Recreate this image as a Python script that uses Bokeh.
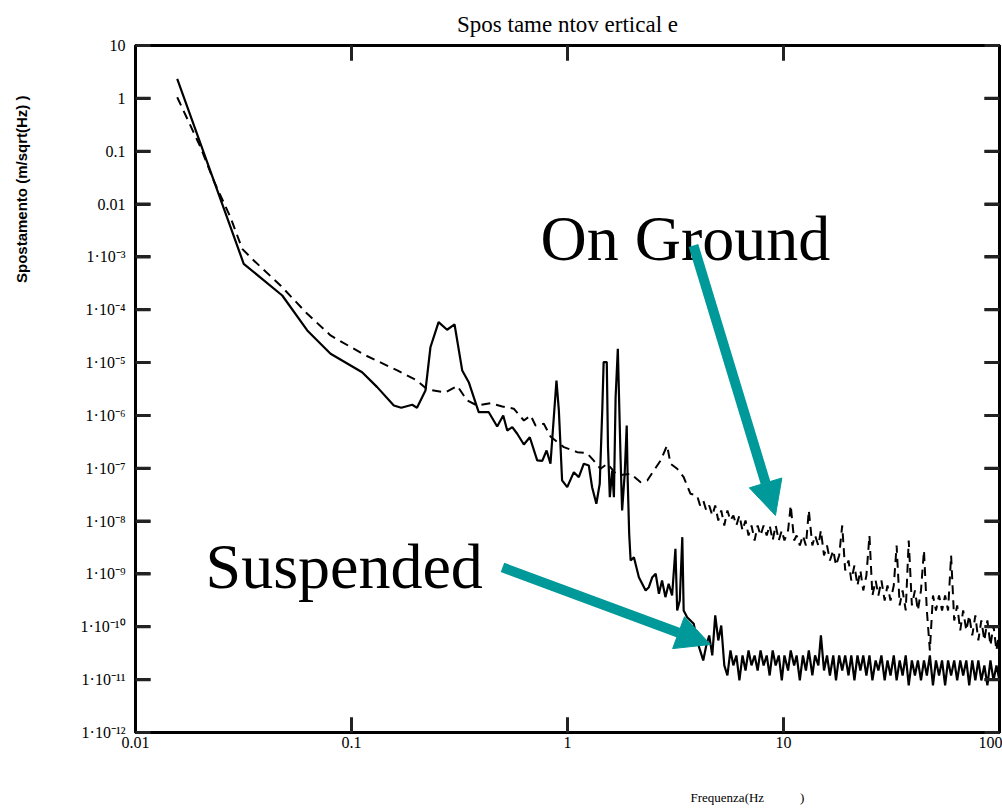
from bokeh.plotting import figure
from bokeh.models import (LogAxis, FixedTicker, CustomJSTickFormatter, Title, Label,
                          Arrow, NormalHead)
from bokeh.embed import file_html
from bokeh.resources import INLINE

# ---------------- data ----------------
susp_freq_lo = [0.0156, 0.0317, 0.0478, 0.0624, 0.080, 0.112, 0.1315, 0.157, 0.170, 0.191,
                0.201, 0.220, 0.232, 0.253, 0.277, 0.300, 0.3255, 0.349, 0.388, 0.432,
                0.4725, 0.504, 0.526, 0.555, 0.585, 0.628, 0.669, 0.724, 0.764, 0.800,
                0.834, 0.849, 0.889, 0.912, 0.944, 0.997, 1.07, 1.128, 1.19, 1.255,
                1.30, 1.36, 1.41, 1.45, 1.47, 1.52, 1.54, 1.57, 1.61, 1.64,
                1.67, 1.71, 1.76, 1.79, 1.84, 1.88, 1.90, 1.93, 1.96, 2.03,
                2.14, 2.30, 2.38, 2.47, 2.56, 2.65, 2.74, 2.84, 2.94, 3.05,
                3.16, 3.22, 3.31, 3.40, 3.45, 3.58, 3.84]
susp_lo = [2.34, 7.4e-4, 1.86e-4, 4.05e-5, 1.47e-5, 6.58e-6, 3.43e-6, 1.54e-6, 1.40e-6, 1.59e-6,
           1.40e-6, 2.96e-6, 1.95e-5, 5.81e-5, 4.18e-5, 5.26e-5, 7.1e-6, 4.26e-6, 1.15e-6, 1.15e-6,
           6.18e-7, 9.98e-7, 5.19e-7, 6.0e-7, 4.5e-7, 2.82e-7, 3.87e-7, 1.41e-7, 1.38e-7, 2.17e-7,
           1.22e-7, 3.36e-7, 4.58e-6, 1.24e-6, 5.88e-8, 4.39e-8, 8.44e-8, 6.79e-8, 1.22e-7, 1.13e-7,
           4.39e-8, 2.13e-8, 5.09e-8, 1.43e-6, 1.02e-5, 1.02e-5, 2.51e-7, 2.84e-8, 9.08e-8, 2.84e-8,
           2.21e-6, 1.82e-5, 1.62e-7, 1.59e-8, 7.87e-8, 6.46e-7, 5.88e-8, 5.77e-9, 1.80e-9, 2.08e-9,
           8.69e-10, 4.88e-10, 5.62e-10, 8.69e-10, 1.01e-9, 4.22e-10, 7.53e-10, 3.64e-10, 6.52e-10, 3.92e-10,
           3.0e-9, 2.04e-10, 3.15e-10, 4.97e-9, 2.04e-10, 1.52e-10, 1.14e-10]

ground_freq_lo = [0.0156, 0.0200, 0.0230, 0.0275, 0.0312, 0.0353, 0.0469, 0.0624, 0.080, 0.114,
                  0.163, 0.201, 0.224, 0.272, 0.309, 0.343, 0.382, 0.440, 0.499, 0.564,
                  0.628, 0.675, 0.711, 0.777, 0.834, 0.962, 1.11, 1.23, 1.32, 1.42,
                  1.53, 1.70, 1.96, 2.18, 2.34, 2.51, 2.70, 2.89, 3.00, 3.22,
                  3.45, 3.71]
ground_lo = [1.05, 0.119, 0.0279, 5.64e-3, 1.42e-3, 8.55e-4, 2.88e-4, 8.38e-5, 3.26e-5, 1.42e-5,
             7.1e-6, 4.58e-6, 3.10e-6, 2.72e-6, 3.61e-6, 1.92e-6, 1.54e-6, 1.71e-6, 1.48e-6, 1.34e-6,
             8.02e-7, 9.98e-7, 6.46e-7, 6.95e-7, 4.0e-7, 2.51e-7, 2.02e-7, 1.95e-7, 1.41e-7, 9.79e-8,
             1.22e-7, 7.31e-8, 7.87e-8, 5.46e-8, 5.88e-8, 9.08e-8, 1.41e-7, 2.70e-7, 1.22e-7, 9.79e-8,
             6.79e-8, 3.29e-8]

freq_hi = [3.98, 4.11, 4.25, 4.39, 4.53, 4.68, 4.83, 4.99, 5.15, 5.32,
           5.50, 5.68, 5.86, 6.05, 6.25, 6.46, 6.67, 6.89, 7.11, 7.35,
           7.59, 7.83, 8.09, 8.36, 8.63, 8.91, 9.20, 9.51, 9.82, 10.1,
           10.5, 10.8, 11.2, 11.5, 11.9, 12.3, 12.7, 13.1, 13.6, 14.0,
           14.5, 14.9, 15.4, 15.9, 16.4, 17.0, 17.5, 18.1, 18.7, 19.3,
           20.0, 20.6, 21.3, 22.0, 22.7, 23.4, 24.2, 25.0, 25.8, 26.7,
           27.5, 28.4, 29.4, 30.3, 31.3, 32.4, 33.4, 34.5, 35.6, 36.8,
           38.0, 39.3, 40.6, 41.9, 43.3, 44.7, 46.1, 47.6, 49.2, 50.8,
           52.5, 54.2, 56.0, 57.8, 59.7, 61.7, 63.7, 65.8, 67.9, 70.2,
           72.4, 74.8, 77.3, 79.8, 82.4, 85.1, 87.9, 90.8, 93.8, 96.8,
           100.0]

ground_hi = [3.06e-8, 1.98e-8, 2.46e-8, 1.59e-8, 1.98e-8, 1.28e-8, 1.98e-8, 1.03e-8, 1.59e-8, 8.28e-9,
             1.59e-8, 1.03e-8, 1.28e-8, 8.28e-9, 1.28e-8, 6.66e-9, 1.03e-8, 5.35e-9, 8.28e-9, 4.31e-9,
             8.28e-9, 5.35e-9, 8.28e-9, 5.35e-9, 8.28e-9, 4.31e-9, 8.28e-9, 4.31e-9, 6.66e-9, 4.31e-9,
             6.66e-9, 1.98e-8, 4.31e-9, 5.35e-9, 3.46e-9, 5.35e-9, 3.46e-9, 1.59e-8, 3.46e-9, 5.35e-9,
             3.46e-9, 6.66e-9, 2.24e-9, 3.46e-9, 1.80e-9, 2.79e-9, 1.45e-9, 2.24e-9, 8.28e-9, 1.16e-9,
             1.80e-9, 7.53e-10, 1.45e-9, 6.06e-10, 1.16e-9, 4.88e-10, 9.37e-10, 5.35e-9, 3.92e-10, 7.53e-10,
             3.92e-10, 7.53e-10, 3.15e-10, 6.06e-10, 3.15e-10, 6.06e-10, 3.46e-9, 2.54e-10, 4.88e-10, 2.04e-10,
             4.31e-9, 2.54e-10, 4.88e-10, 2.04e-10, 4.88e-10, 2.79e-9, 2.04e-10, 3.57e-11, 3.92e-10, 2.04e-10,
             3.92e-10, 2.04e-10, 3.92e-10, 2.04e-10, 2.24e-9, 1.32e-10, 2.54e-10, 8.53e-11, 2.04e-10, 8.53e-11,
             1.64e-10, 6.86e-11, 1.64e-10, 5.52e-11, 1.32e-10, 5.52e-11, 1.32e-10, 4.44e-11, 1.06e-10, 3.57e-11,
             8.53e-11]

susp_hi = [5.52e-11, 3.57e-11, 2.31e-11, 4.44e-11, 6.86e-11, 2.87e-11, 1.64e-10, 5.52e-11, 1.06e-10, 1.86e-11,
           1.20e-11, 3.57e-11, 1.86e-11, 2.87e-11, 9.66e-12, 2.87e-11, 1.49e-11, 3.57e-11, 1.86e-11, 2.87e-11,
           1.49e-11, 3.57e-11, 1.86e-11, 2.87e-11, 1.20e-11, 3.57e-11, 1.86e-11, 2.87e-11, 9.66e-12, 2.87e-11,
           1.49e-11, 3.57e-11, 1.86e-11, 2.87e-11, 9.66e-12, 2.87e-11, 1.49e-11, 3.57e-11, 1.20e-11, 2.87e-11,
           1.86e-11, 6.86e-11, 1.49e-11, 2.87e-11, 1.20e-11, 2.87e-11, 9.66e-12, 2.87e-11, 1.49e-11, 2.87e-11,
           1.20e-11, 2.87e-11, 9.66e-12, 2.87e-11, 1.49e-11, 2.87e-11, 1.20e-11, 2.87e-11, 9.66e-12, 2.31e-11,
           1.49e-11, 2.87e-11, 9.66e-12, 2.31e-11, 1.20e-11, 2.87e-11, 9.66e-12, 2.31e-11, 1.20e-11, 2.87e-11,
           7.77e-12, 2.31e-11, 1.20e-11, 2.31e-11, 9.66e-12, 2.31e-11, 1.20e-11, 2.87e-11, 7.77e-12, 2.31e-11,
           1.20e-11, 2.31e-11, 7.77e-12, 2.31e-11, 1.20e-11, 2.31e-11, 9.66e-12, 2.31e-11, 1.20e-11, 2.31e-11,
           7.77e-12, 2.31e-11, 9.66e-12, 2.31e-11, 9.66e-12, 1.86e-11, 7.77e-12, 2.31e-11, 9.66e-12, 1.86e-11,
           9.66e-12]

xticks = [0.01, 0.1, 1, 10, 100]
xtick_labels = ["0.01", "0.1", "1", "10", "100"]
yticks = [1e-12, 1e-11, 1e-10, 1e-9, 1e-8, 1e-7, 1e-6, 1e-5, 1e-4, 1e-3, 0.01, 0.1, 1, 10]
ytick_labels = ["1·10⁻¹²", "1·10⁻¹¹", "1·10⁻¹⁰", "1·10⁻⁹", "1·10⁻⁸", "1·10⁻⁷", "1·10⁻⁶",
                "1·10⁻⁵", "1·10⁻⁴", "1·10⁻³", "0.01", "0.1", "1", "10"]

title_text = "Spos tame ntov ertical e"
xlabel_text = "Frequenza(Hz" + "\u00a0" * 11 + ")"
ylabel_text = "Spostamento (m/sqrt(Hz) )"

ground_label = ("On Ground", 0.75, 2.23e-3)
susp_label = ("Suspended", 0.0211, 1.39e-9)
ground_arrow = (3.83, 1.64e-3, 9.18, 1.28e-8)
susp_arrow = (0.500, 1.33e-9, 4.59, 4.63e-11)

# ---------------- figure ----------------
SERIF = "Liberation Serif"
TEAL = "#009999"
XMIN, XMAX = xticks[0], xticks[-1]
YMIN, YMAX = yticks[0], yticks[-1]
W, H = 1002, 810
BL, BR, BT, BB = 135, 3, 45, 78

p = figure(width=W, height=H, x_axis_type="log", y_axis_type="log",
           x_range=(XMIN, XMAX), y_range=(YMIN, YMAX),
           x_axis_location=None, y_axis_location=None,
           output_backend="svg", toolbar_location=None,
           min_border_left=BL, min_border_right=BR, min_border_top=BT, min_border_bottom=BB)
p.background_fill_color = "white"
p.border_fill_color = "white"
p.outline_line_color = "black"
p.outline_line_width = 3
p.xgrid.visible = False
p.ygrid.visible = False

p.title.text = title_text
p.title.align = "center"
p.title.text_font = SERIF
p.title.text_font_size = "23px"
p.title.text_font_style = "normal"
p.title.text_color = "black"
if "standoff" in Title.properties():
    p.title.standoff = 17

def fmt(tvals, tlabs):
    return CustomJSTickFormatter(args=dict(tvals=tvals, tlabs=tlabs), code="""
        let best = 0, bd = Infinity;
        for (let i = 0; i < tvals.length; i++) {
            const d = Math.abs(Math.log10(tvals[i]) - Math.log10(tick));
            if (d < bd) { bd = d; best = i; }
        }
        return tlabs[best];
    """)

def make_axis(tvals, tlabs, show_labels):
    ax = LogAxis()
    ax.ticker = FixedTicker(ticks=tvals, minor_ticks=[])
    ax.major_tick_in = 15
    ax.major_tick_out = 0
    ax.major_tick_line_width = 3
    ax.major_tick_line_color = "#222222"
    ax.minor_tick_line_color = None
    ax.axis_line_color = "black"
    ax.axis_line_width = 3
    ax.formatter = fmt(tvals, tlabs)
    ax.major_label_text_font = SERIF
    if show_labels:
        ax.major_label_text_font_size = "16px"
        ax.major_label_text_color = "black"
    else:
        ax.major_label_text_font_size = "2px"
        ax.major_label_text_alpha = 0.0
        ax.major_label_standoff = 0
    return ax

bottom = make_axis(xticks, xtick_labels, True)
bottom.major_label_standoff = 4
p.add_layout(bottom, "below")
left = make_axis(yticks, ytick_labels, True)
left.major_label_standoff = 10
p.add_layout(left, "left")
top = make_axis(xticks, xtick_labels, False)
p.add_layout(top, "above")
right = make_axis(yticks, ytick_labels, False)
p.add_layout(right, "right")

# inward tick marks on all four frame edges, placed at the tick values;
# their 15 px length is converted into a factor along each log axis
TICK_LEN = 15
px_per_dec_x = (W - BL - BR) / 4.0
px_per_dec_y = (H - BT - BB) / 13.0
fx = 10 ** (TICK_LEN / px_per_dec_x)
fy = 10 ** (TICK_LEN / px_per_dec_y)
tick_style = dict(line_color="#222222", line_width=3)
p.segment(x0=[XMIN] * len(yticks), x1=[XMIN * fx] * len(yticks), y0=yticks, y1=yticks, **tick_style)
p.segment(x0=[XMAX] * len(yticks), x1=[XMAX / fx] * len(yticks), y0=yticks, y1=yticks, **tick_style)
p.segment(x0=xticks, x1=xticks, y0=[YMIN] * len(xticks), y1=[YMIN * fy] * len(xticks), **tick_style)
p.segment(x0=xticks, x1=xticks, y0=[YMAX] * len(xticks), y1=[YMAX / fy] * len(xticks), **tick_style)

# spacers that push the axis titles outwards
p.add_layout(Title(text="\u00a0", text_font_size="28px"), "left")
p.add_layout(Title(text="\u00a0", text_font_size="18px"), "below")

ylab = Title(text=ylabel_text, align="right", offset=50, text_font="Liberation Sans",
             text_font_size="15px", text_font_style="bold", text_color="black")
p.add_layout(ylab, "left")

xlab = Title(text=xlabel_text, align="left", offset=555, text_font=SERIF,
             text_font_size="13px", text_font_style="normal", text_color="black")
p.add_layout(xlab, "below")

# series
p.line(ground_freq_lo + freq_hi, ground_lo + ground_hi, line_color="black",
       line_width=2, line_dash="9 6")
p.line(susp_freq_lo + freq_hi, susp_lo + susp_hi, line_color="black", line_width=2.2)

# annotations
for txt, lx, ly in (ground_label, susp_label):
    p.add_layout(Label(x=lx, y=ly, text=txt, text_font=SERIF, text_font_size="64px",
                       text_color="black", text_baseline="alphabetic", text_align="left"))

for xs, ys, xe, ye in (ground_arrow, susp_arrow):
    p.add_layout(Arrow(end=NormalHead(size=34, fill_color=TEAL, line_color=TEAL),
                       x_start=xs, y_start=ys, x_end=xe, y_end=ye,
                       line_color=TEAL, line_width=10))

open("out.html", "w").write(file_html(p, INLINE))
